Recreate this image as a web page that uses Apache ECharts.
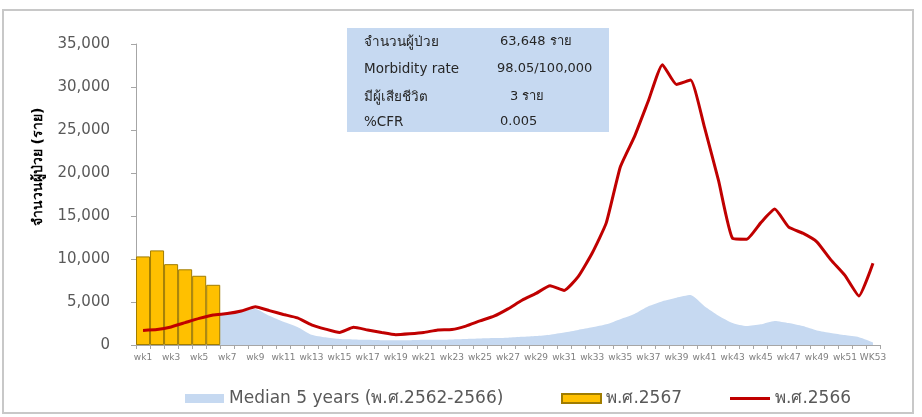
<!DOCTYPE html>
<html>
<head>
<meta charset="utf-8">
<script src="https://cdn.jsdelivr.net/npm/echarts@6/dist/echarts.min.js"></script>
<style>html,body{margin:0;padding:0;background:#fff}#c{width:922px;height:417px}</style>
</head>
<body>
<div id="c"></div>
<script>
var weeks = [];
for (var i = 1; i <= 53; i++) weeks.push(i === 53 ? 'WK53' : 'wk' + i);

var median5 = [2600, 2800, 3000, 3200, 3400, 3500, 3600, 3900, 4200, 3400,
  2700, 2100, 1200, 900, 700, 650, 600, 550, 550, 550,
  600, 600, 650, 700, 750, 800, 850, 950, 1050, 1200,
  1450, 1750, 2050, 2400, 3000, 3600, 4500, 5100, 5500, 5800,
  4500, 3400, 2550, 2200, 2400, 2800, 2550, 2200, 1700, 1400,
  1150, 900, 300];

var y2567 = [10300, 11000, 9400, 8800, 8050, 7000];

var y2566 = [1700, 1800, 2100, 2600, 3100, 3500, 3650, 3950, 4450, 4000,
  3550, 3150, 2350, 1850, 1450, 2050, 1750, 1450, 1200, 1300,
  1450, 1750, 1800, 2200, 2800, 3350, 4200, 5200, 6000, 6900,
  6350, 7950, 10700, 14200, 20700, 24200, 28400, 32600, 30300, 30800,
  25300, 19100, 12400, 12300, 14200, 15800, 13700, 13000, 12000, 9900,
  8100, 5700, 9500];

var yTicks = [0, 5000, 10000, 15000, 20000, 25000, 30000, 35000];

var nameMedian = 'Median 5 years (พ.ศ.2562-2566)';
var name2567 = 'พ.ศ.2567';
var name2566 = 'พ.ศ.2566';

var infoLabels = ['จำนวนผู้ป่วย', 'Morbidity rate', 'มีผู้เสียชีวิต', '%CFR'];
var infoValues = ['63,648 ราย', '98.05/100,000', '3 ราย', '0.005'];

var FONT = '"DejaVu Sans", "Noto Sans", sans-serif';
var chart = echarts.init(document.getElementById('c'), null, {renderer: 'canvas'});

var infoGraphics = [{
  type: 'rect', shape: {x: 347, y: 28, width: 262, height: 104},
  style: {fill: '#C6D9F1'}, z: 10
}];
var rowY = [42, 69, 97, 122];
var valX = [500, 497, 510, 500];
for (var r = 0; r < infoLabels.length; r++) {
  infoGraphics.push({type: 'text', x: 364, y: rowY[r], z: 11,
    style: {text: infoLabels[r], fill: '#262626', font: '13.5px ' + FONT, textVerticalAlign: 'middle'}});
  infoGraphics.push({type: 'text', x: valX[r], y: rowY[r], z: 11,
    style: {text: infoValues[r], fill: '#262626', font: '13px ' + FONT, textVerticalAlign: 'middle'}});
}

chart.setOption({
  animation: false,
  textStyle: {fontFamily: FONT},
  grid: {left: 136, right: 42, top: 44, bottom: 72},
  graphic: [
    {type: 'rect', shape: {x: 3, y: 10, width: 910, height: 403},
     style: {fill: 'none', stroke: '#C8C8C8', lineWidth: 2}, z: 0}
  ].concat(infoGraphics).concat([
    {type: 'text', x: 38, y: 167, rotation: Math.PI / 2, z: 11,
     style: {text: 'จำนวนผู้ป่วย (ราย)', fill: '#000', font: 'bold 14px ' + FONT,
             textAlign: 'center', textVerticalAlign: 'middle'}}
  ]),
  legend: [
    {data: [{name: nameMedian, icon: 'rect'}], left: 180, top: 385, itemWidth: 39, itemHeight: 9,
     textStyle: {color: '#595959', fontSize: 17, fontFamily: FONT}},
    {data: [{name: name2567, icon: 'rect'}], left: 556, top: 385, itemWidth: 39, itemHeight: 9,
     textStyle: {color: '#595959', fontSize: 17, fontFamily: FONT}},
    {data: [{name: name2566, icon: 'rect'}], left: 725, top: 385, itemWidth: 40, itemHeight: 3,
     textStyle: {color: '#595959', fontSize: 17, fontFamily: FONT}}
  ],
  xAxis: {
    type: 'category', data: weeks, boundaryGap: true,
    axisLine: {lineStyle: {color: '#A6A6A6', width: 1}},
    axisTick: {show: true, interval: 0, length: 4, lineStyle: {color: '#A6A6A6'}},
    axisLabel: {interval: 1, fontSize: 9, color: '#7F7F7F', margin: 8, fontFamily: FONT}
  },
  yAxis: {
    type: 'value', min: 0, max: 35000, interval: 5000,
    axisLine: {show: true, lineStyle: {color: '#A6A6A6'}},
    axisTick: {show: true, inside: false, length: 5, lineStyle: {color: '#A6A6A6'}},
    splitLine: {show: false},
    axisLabel: {fontSize: 15, color: '#595959', margin: 26, fontFamily: FONT,
      formatter: function (v) { return yTicks.indexOf(v) >= 0 ? v.toLocaleString('en-US') : ''; }}
  },
  series: [
    {name: nameMedian, type: 'line', data: median5, symbol: 'none', smooth: 0.2,
     lineStyle: {width: 0, color: '#C6D9F1'}, itemStyle: {color: '#C6D9F1'},
     areaStyle: {color: '#C6D9F1', opacity: 1}, z: 1},
    {name: name2567, type: 'bar', data: y2567, barCategoryGap: '0%',
     itemStyle: {color: '#FFC000', borderColor: '#A07C00', borderWidth: 1}, z: 2},
    {name: name2566, type: 'line', data: y2566, symbol: 'none', smooth: 0.15,
     lineStyle: {width: 3, color: '#C00000'}, itemStyle: {color: '#C00000'}, z: 3}
  ]
});
</script>
</body>
</html>
